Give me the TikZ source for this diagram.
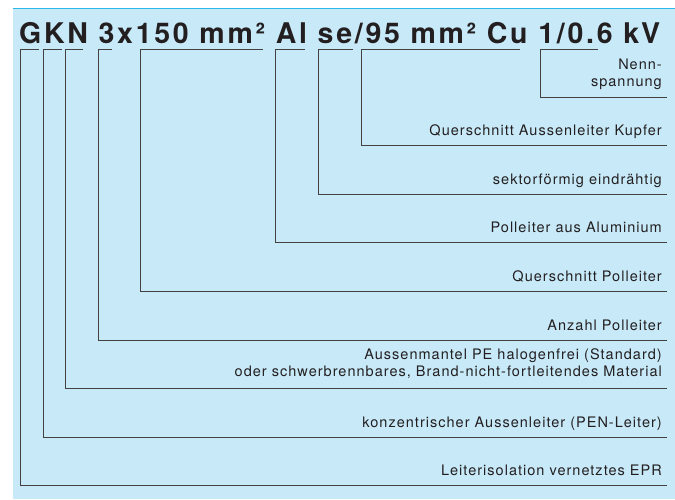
\documentclass[tikz,border=0pt]{standalone}
\usepackage{fontspec}
\setmainfont{TeX Gyre Heros}
\definecolor{panel}{HTML}{C7E9F8}
\definecolor{rim}{HTML}{2DB8E8}
\definecolor{ink}{HTML}{231F20}
\tikzset{
  leader/.style={draw=ink!85, line width=0.9pt},
  note/.style={anchor=base east, inner sep=0pt, align=right, text=ink,
    font=\fontsize{14.5}{16.5}\selectfont\addfontfeature{LetterSpace=7}},
  code/.style={anchor=base west, inner sep=0pt, text=ink,
    font=\fontsize{28.5}{30}\selectfont\bfseries\addfontfeature{LetterSpace=9.6}},
}
\begin{document}
\begin{tikzpicture}[x=1pt, y=-1pt]
  \useasboundingbox (0,0) rectangle (675,499);
  \fill[panel] (13,8) rectangle (675,499);
  \draw[rim, line width=1.6pt] (13,8.5) -- (675,8.5);

  % cable code
  \node[code] (type) at (19,43) {GKN 3x150 mm² Al se/95 mm² Cu 1/0.6 kV};

  % descriptions
  \node[note] (nenn) at (662,86) {Nenn-\\spannung};
  \node[note] (qcu) at (662,135.6) {Querschnitt Aussenleiter Kupfer};
  \node[note] (se) at (662,184.2) {sektorförmig eindrähtig};
  \node[note] (al) at (662,232.8) {Polleiter aus Aluminium};
  \node[note] (qpol) at (662,281.4) {Querschnitt Polleiter};
  \node[note] (anz) at (662,330) {Anzahl Polleiter};
  \node[note] (mantel) at (662,376) {Aussenmantel PE halogenfrei (Standard)\\oder schwerbrennbares, Brand-nicht-fortleitendes Material};
  \node[note] (pen) at (662,427.2) {konzentrischer Aussenleiter (PEN-Leiter)};
  \node[note] (iso) at (662,475.8) {Leiterisolation vernetztes EPR};

  % leaders
  \draw[leader] (598,49) -- (540,49) -- (540,97) -- (667,97);
  \draw[leader] (520,49) -- (361,49) -- (361,145.6) -- (667,145.6);
  \draw[leader] (353,49) -- (318,49) -- (318,194.2) -- (667,194.2);
  \draw[leader] (305,49) -- (275,49) -- (275,242.8) -- (667,242.8);
  \draw[leader] (263,49) -- (140,49) -- (140,291.4) -- (667,291.4);
  \draw[leader] (112,49) -- (98,49) -- (98,340) -- (667,340);
  \draw[leader] (83,49) -- (65,49) -- (65,388.6) -- (667,388.6);
  \draw[leader] (62,49) -- (43,49) -- (43,437.2) -- (667,437.2);
  \draw[leader] (39,49) -- (20,49) -- (20,485.8) -- (667,485.8);
\end{tikzpicture}
\end{document}
